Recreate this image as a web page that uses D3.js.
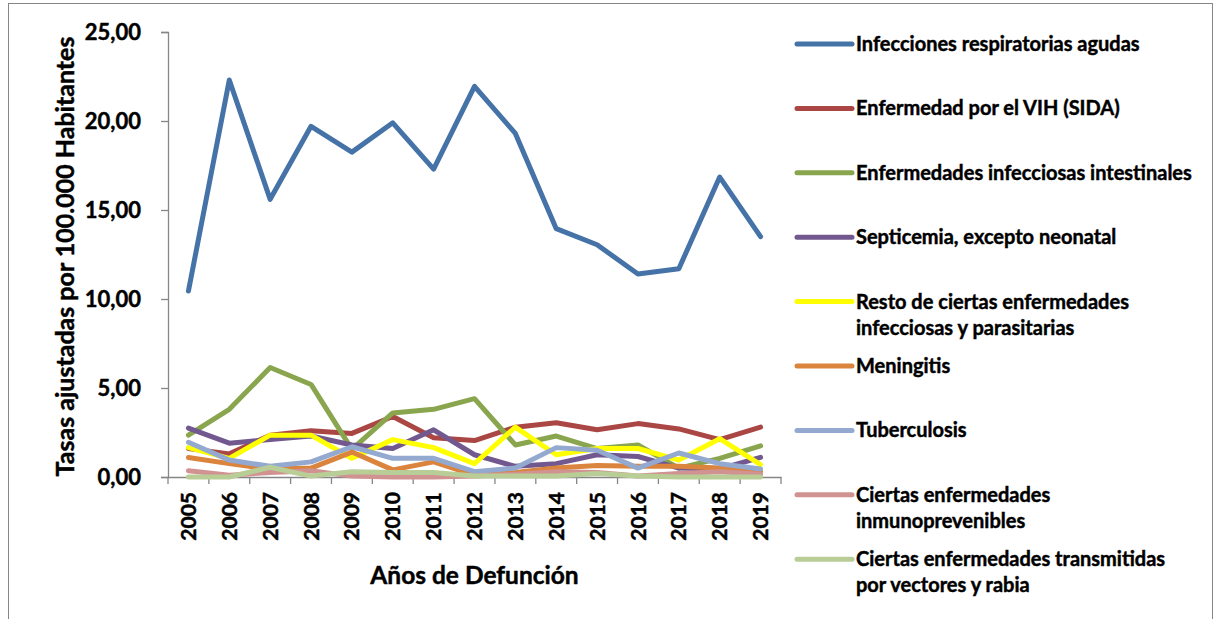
<!DOCTYPE html>
<html>
<head>
<meta charset="utf-8">
<script src="https://cdn.jsdelivr.net/npm/d3@7"></script>
<style>
  body { margin: 0; background: #fff; }
  text { font-family: Lato, "Open Sans", sans-serif; font-weight: bold; fill: #000; stroke: #000; stroke-width: 0.45px; }
</style>
</head>
<body>
<svg id="chart"></svg>
<script>
// Data
const years = ["2005", "2006", "2007", "2008", "2009", "2010", "2011", "2012", "2013", "2014", "2015", "2016", "2017", "2018", "2019"];
const yTicks = [0, 5, 10, 15, 20, 25];

const respiratorias = [10.45, 22.3, 15.6, 19.7, 18.25, 19.9, 17.3, 21.95, 19.3, 13.95, 13.05, 11.4, 11.7, 16.85, 13.5];
const vih = [1.6, 1.3, 2.35, 2.6, 2.45, 3.4, 2.2, 2.05, 2.8, 3.05, 2.65, 3.0, 2.7, 2.1, 2.8];
const intestinales = [2.35, 3.8, 6.15, 5.2, 1.55, 3.6, 3.8, 4.4, 1.8, 2.3, 1.6, 1.8, 0.5, 1.05, 1.75];
const septicemia = [2.75, 1.9, 2.1, 2.3, 1.8, 1.6, 2.65, 1.25, 0.6, 0.75, 1.25, 1.15, 0.5, 0.45, 1.1];
const resto = [1.65, 1.05, 2.35, 2.35, 1.05, 2.1, 1.65, 0.75, 2.8, 1.25, 1.6, 1.6, 0.95, 2.15, 0.7];
const meningitis = [1.1, 0.75, 0.45, 0.5, 1.4, 0.4, 0.85, 0.1, 0.25, 0.5, 0.65, 0.6, 0.6, 0.5, 0.3];
const tuberculosis = [1.95, 0.95, 0.6, 0.85, 1.7, 1.05, 1.05, 0.3, 0.5, 1.65, 1.5, 0.5, 1.35, 0.75, 0.45];
const inmunoprevenibles = [0.35, 0.1, 0.25, 0.35, 0.05, 0, 0, 0.05, 0.15, 0.3, 0.25, 0.05, 0.2, 0.3, 0.15];
const vectores = [0, 0, 0.55, 0.05, 0.3, 0.25, 0.25, 0.05, 0.05, 0.05, 0.2, 0.05, 0, 0, 0];

const series = [
  { name: ["Infecciones respiratorias agudas"], values: respiratorias, color: "#4572A7" },
  { name: ["Enfermedad por el VIH (SIDA)"], values: vih, color: "#AA4643" },
  { name: ["Enfermedades infecciosas intestinales"], values: intestinales, color: "#89A54E" },
  { name: ["Septicemia, excepto neonatal"], values: septicemia, color: "#71588F" },
  { name: ["Resto de ciertas enfermedades", "infecciosas y parasitarias"], values: resto, color: "#FFFF00" },
  { name: ["Meningitis"], values: meningitis, color: "#DB843D" },
  { name: ["Tuberculosis"], values: tuberculosis, color: "#93A9CF" },
  { name: ["Ciertas enfermedades", "inmunoprevenibles"], values: inmunoprevenibles, color: "#D19392" },
  { name: ["Ciertas enfermedades transmitidas", "por vectores y rabia"], values: vectores, color: "#B9CD96" },
];

// Chart Dimensions
const width = 1216;
const height = 619;
const plot = { left: 168, right: 781, top: 32, bottom: 477 };
const axisColor = "#868686";

const svg = d3.select("#chart").attr("width", width).attr("height", height);

// Outer frame
svg.append("rect")
  .attr("x", 8.5).attr("y", 3.5)
  .attr("width", 1204).attr("height", 680)
  .attr("fill", "#fff")
  .attr("stroke", axisColor);

// Scales
const x = d3.scaleBand().domain(years).range([plot.left, plot.right]);
const y = d3.scaleLinear().domain([0, 25]).range([plot.bottom, plot.top]);
const fmt = (d) => d3.format(".2f")(d).replace(".", ",");

// Y Axis
const yAxis = svg.append("g")
  .attr("transform", `translate(${plot.left},0)`)
  .call(d3.axisLeft(y).tickValues(yTicks).tickFormat(fmt).tickSize(7).tickPadding(20));
yAxis.select(".domain").attr("stroke", axisColor).attr("stroke-width", 1.3);
yAxis.selectAll(".tick line").attr("stroke", axisColor).attr("stroke-width", 1.3);
yAxis.selectAll(".tick text").style("font-size", "22px");

// X Axis
const xAxis = svg.append("g")
  .attr("transform", `translate(0,${plot.bottom})`)
  .call(d3.axisBottom(x).tickSize(0).tickSizeOuter(0));
xAxis.select(".domain").attr("stroke", axisColor).attr("stroke-width", 1.3);
xAxis.selectAll(".tick text")
  .style("font-size", "21px")
  .attr("text-anchor", "end")
  .attr("transform", "rotate(-90)")
  .attr("x", -15)
  .attr("y", 0)
  .attr("dy", "0.36em");

// X tick marks at category boundaries
const bounds = years.map((d) => x(d)).concat([plot.right]);
svg.append("g")
  .selectAll("line")
  .data(bounds)
  .join("line")
  .attr("x1", (d) => d).attr("x2", (d) => d)
  .attr("y1", plot.bottom).attr("y2", plot.bottom + 7)
  .attr("stroke", axisColor)
  .attr("stroke-width", 1.3);

// Axis titles
svg.append("text")
  .attr("transform", `translate(74,${(plot.top + plot.bottom) / 2 + 2}) rotate(-90)`)
  .attr("text-anchor", "middle")
  .style("font-size", "25px")
  .text("Tasas ajustadas por 100.000 Habitantes");

svg.append("text")
  .attr("x", (plot.left + plot.right) / 2)
  .attr("y", 584)
  .attr("text-anchor", "middle")
  .style("font-size", "24.5px")
  .text("Años de Defunción");

// Lines
const line = d3.line()
  .x((d, i) => x(years[i]) + x.bandwidth() / 2)
  .y((d) => y(d));

svg.append("g")
  .selectAll("path")
  .data(series)
  .join("path")
  .attr("d", (d) => line(d.values))
  .attr("fill", "none")
  .attr("stroke", (d) => d.color)
  .attr("stroke-width", 5)
  .attr("stroke-linejoin", "round")
  .attr("stroke-linecap", "round");

// Legend
const legendTop = 44;
const legendStep = 64.4;
const legend = svg.append("g")
  .selectAll("g")
  .data(series)
  .join("g")
  .attr("transform", (d, i) => `translate(797,${legendTop + i * legendStep})`);

legend.append("line")
  .attr("x1", 0).attr("x2", 55)
  .attr("stroke", (d) => d.color)
  .attr("stroke-width", 5)
  .attr("stroke-linecap", "round");

legend.append("text")
  .attr("x", 59)
  .attr("y", 7)
  .style("font-size", "20px")
  .selectAll("tspan")
  .data((d) => d.name)
  .join("tspan")
  .attr("x", 59)
  .attr("dy", (d, i) => (i === 0 ? 0 : 26))
  .text((d) => d);
</script>
</body>
</html>
